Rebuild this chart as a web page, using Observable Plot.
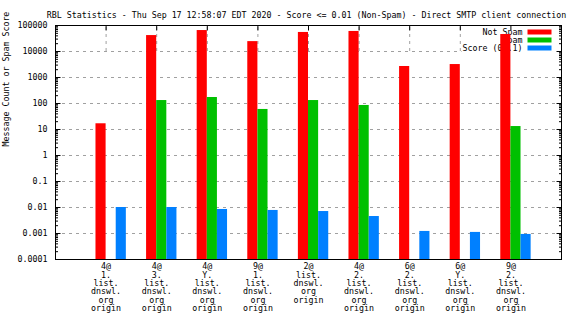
<!DOCTYPE html>
<html>
<head>
<meta charset="utf-8">
<script src="https://cdn.jsdelivr.net/npm/d3@7"></script>
<script src="https://cdn.jsdelivr.net/npm/@observablehq/plot@0.6"></script>
<style>
  html, body { margin: 0; padding: 0; background: #fff; }
  #chart { width: 576px; height: 324px; }
</style>
</head>
<body>
<div id="chart"></div>
<script>
const title = "RBL Statistics - Thu Sep 17 12:58:07 EDT 2020 - Score <= 0.01 (Non-Spam) - Direct SMTP client connection";
const yLabel = "Message Count or Spam Score";
const categories = [
  "4@\n1.\nlist.\ndnswl.\norg\norigin",
  "4@\n3.\nlist.\ndnswl.\norg\norigin",
  "4@\nY.\nlist.\ndnswl.\norg\norigin",
  "9@\n1.\nlist.\ndnswl.\norg\norigin",
  "2@\nlist.\ndnswl.\norg\norigin",
  "4@\n2.\nlist.\ndnswl.\norg\norigin",
  "6@\n2.\nlist.\ndnswl.\norg\norigin",
  "6@\nY.\nlist.\ndnswl.\norg\norigin",
  "9@\n2.\nlist.\ndnswl.\norg\norigin"
];
const seriesNames = ["Not Spam", "Spam", "Score (0..1)"];
const notSpam = [16.6, 41000, 64000, 24000, 54000, 59000, 2650, 3150, 45000];
const spam    = [0, 130, 170, 59, 130, 84, 0, 0, 13];
const score   = [0.010, 0.010, 0.0084, 0.0077, 0.0070, 0.0045, 0.0012, 0.0011, 0.00092];
const yTicks = [0.0001, 0.001, 0.01, 0.1, 1, 10, 100, 1000, 10000, 100000];
const yTickLabels = ["0.0001", "0.001", "0.01", "0.1", "1", "10", "100", "1000", "10000", "100000"];

const colors = ["#ff0000", "#00c000", "#0080ff"];
const barOffsets = [[-0.2, 0], [0, 0.2], [0.2, 0.4]]; // layout: bar slots around each category
const yMin = yTicks[0], yMax = yTicks[yTicks.length - 1];

const seriesValues = [notSpam, spam, score];
const rows = [];
seriesValues.forEach((vals, s) => vals.forEach((v, i) => {
  if (v > 0) rows.push({cat: i + 1, s, value: v});
}));
const catX = categories.map((c, i) => i + 1);
const minorTicks = [];
yTicks.slice(0, -1).forEach(t => { for (let k = 2; k <= 9; k++) minorTicks.push(t * k); });

const lineShape = {draw(ctx, l) { ctx.moveTo(0, 0); ctx.lineTo(0, -l); }};
const rectSymbol = (x, y, w, h) => ({draw(ctx) { ctx.rect(x, y, w, h); }});
const tickVec = (data, opts) => Plot.vector(data, {anchor: "start", shape: lineShape, stroke: "black", strokeWidth: 1, strokeLinecap: "butt", ...opts});

const grid = {stroke: "#a0a0a0", strokeWidth: 1, strokeDasharray: "3,4"};

const legendMarks = [
  Plot.dot([0], {frameAnchor: "top-right", symbol: rectSymbol(-100, 1, 95, 27), fill: "white", stroke: "none"}),
  ...seriesNames.map((n, i) => Plot.text([n], {frameAnchor: "top-right", textAnchor: "end", lineAnchor: "middle", dx: -39, dy: 6.5 + i * 8, text: d => d, fill: "black"})),
  ...seriesNames.map((n, i) => Plot.dot([n], {frameAnchor: "top-right", symbol: rectSymbol(-34, 4 + i * 8, 24, 5), fill: colors[i], stroke: "none"}))
];

const plot = Plot.plot({
  width: 576,
  height: 324,
  marginLeft: 55,
  marginRight: 15,
  marginTop: 25,
  marginBottom: 65,
  style: {fontFamily: "'DejaVu Sans Mono', monospace", fontSize: "8.3px", color: "black", background: "white"},
  x: {type: "linear", domain: [0, categories.length + 1], axis: null},
  y: {type: "log", domain: [yMin, yMax], axis: null},
  marks: [
    Plot.ruleY(yTicks.slice(1, -1), grid),
    Plot.ruleX(catX, {y1: yTicks[yTicks.length - 2], y2: yMax, ...grid}),
    ...legendMarks,
    // bars
    Plot.rect(rows, {
      x1: d => d.cat + barOffsets[d.s][0],
      x2: d => d.cat + barOffsets[d.s][1],
      y1: yMin,
      y2: "value",
      fill: d => colors[d.s]
    }),
    // frame & ticks
    Plot.frame({stroke: "black", strokeWidth: 1}),
    tickVec(yTicks, {y: d => d, frameAnchor: "left", rotate: 90, length: 5}),
    tickVec(yTicks, {y: d => d, frameAnchor: "right", rotate: -90, length: 5}),
    tickVec(minorTicks, {y: d => d, frameAnchor: "left", rotate: 90, length: 2.5}),
    tickVec(minorTicks, {y: d => d, frameAnchor: "right", rotate: -90, length: 2.5}),
    tickVec(catX, {x: d => d, frameAnchor: "top", rotate: 180, length: 5}),
    // axis labels
    Plot.text(yTicks, {y: d => d, frameAnchor: "left", textAnchor: "end", dx: -8, text: (d, i) => yTickLabels[i], fill: "black"}),
    Plot.text(categories, {x: (d, i) => i + 1, frameAnchor: "bottom", lineAnchor: "top", dy: 4, lineHeight: 1.0, text: d => d, fill: "black"}),
    Plot.text([yLabel], {frameAnchor: "left", rotate: -90, dx: -49, dy: 4, text: d => d, fill: "black"}),
    Plot.text([title], {frameAnchor: "top", dx: -2, dy: -13, text: d => d, fill: "black"})
  ]
});
document.getElementById("chart").appendChild(plot);
</script>
</body>
</html>
